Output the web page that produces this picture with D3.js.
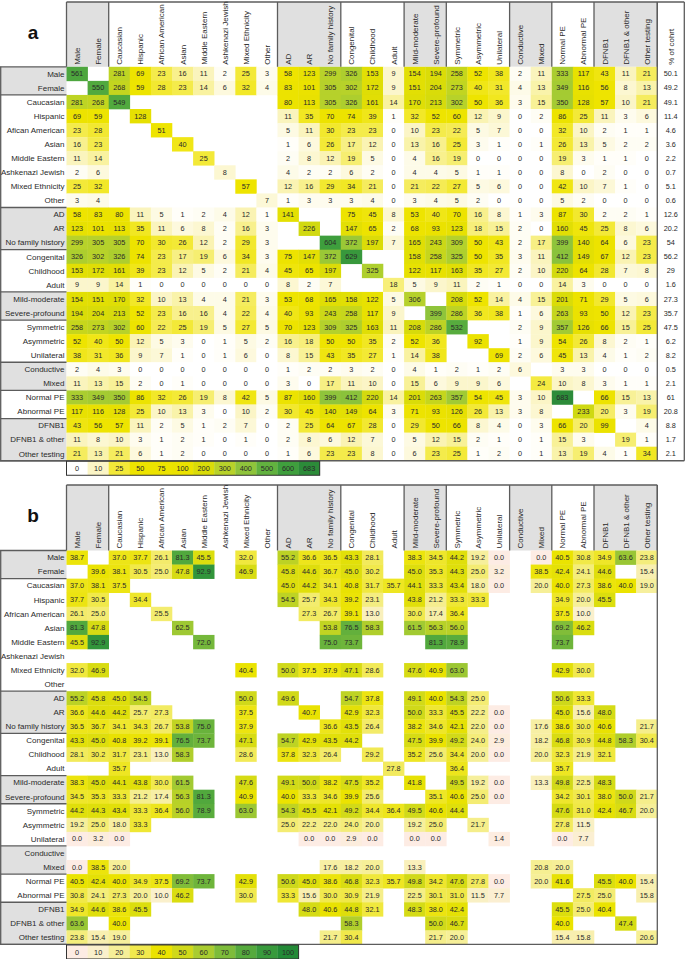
<!DOCTYPE html>
<html><head><meta charset="utf-8">
<script src="https://cdn.jsdelivr.net/npm/d3@7"></script>
<style>body{margin:0;background:#fff} svg{display:block} text{font-family:"Liberation Sans",Arial,sans-serif;}</style>
</head><body><svg id="c" width="685" height="959"></svg>
<script>
const N = null;
const colLabels = ["Male","Female","Caucasian","Hispanic","African American","Asian","Middle Eastern","Ashkenazi Jewish","Mixed Ethnicity","Other","AD","AR","No family history","Congenital","Childhood","Adult","Mild-moderate","Severe-profound","Symmetric","Asymmetric","Unilateral","Conductive","Mixed","Normal PE","Abnormal PE","DFNB1","DFNB1 & other","Other testing"];
const rowLabelsA = ["Male","Female","Caucasian","Hispanic","Afican American","Asian","Middle Eastern","Ashkenazi Jewish","Mixed Ethnicity","Other","AD","AR","No family history","Congenital","Childhood","Adult","Mild-moderate","Severe-profound","Symmetric","Asymmetric","Unilateral","Conductive","Mixed","Normal PE","Abnormal PE","DFNB1","DFNB1 & other","Other testing"];
const rowLabelsB = ["Male","Female","Caucasian","Hispanic","African American","Asian","Middle Eastern","Ashkenazi Jewish","Mixed Ethnicity","Other","AD","AR","No family history","Congenital","Childhood","Adult","Mild-moderate","Severe-profound","Symmetric","Asymmetric","Unilateral","Conductive","Mixed","Normal PE","Abnormal PE","DFNB1","DFNB1 & other","Other testing"];
const groupSizes = [2,8,3,3,2,3,2,2,3];
const extraColLabel = "% of cohrt";

const countsA = [
[561,N,281,69,23,16,11,2,25,3,58,123,299,326,153,9,154,194,258,52,38,2,11,333,117,43,11,21],
[N,550,268,59,28,23,14,6,32,4,83,101,305,302,172,9,151,204,273,40,31,4,13,349,116,56,8,13],
[281,268,549,N,N,N,N,N,N,N,80,113,305,326,161,14,170,213,302,50,36,3,15,350,128,57,10,21],
[69,59,N,128,N,N,N,N,N,N,11,35,70,74,39,1,32,52,60,12,9,0,2,86,25,11,3,6],
[23,28,N,N,51,N,N,N,N,N,5,11,30,23,23,0,10,23,22,5,7,0,0,32,10,2,1,1],
[16,23,N,N,N,40,N,N,N,N,1,6,26,17,12,0,13,16,25,3,1,0,1,26,13,5,2,2],
[11,14,N,N,N,N,25,N,N,N,2,8,12,19,5,0,4,16,19,0,0,0,0,19,3,1,1,0],
[2,6,N,N,N,N,N,8,N,N,4,2,2,6,2,0,4,4,5,1,1,0,0,8,0,2,0,0],
[25,32,N,N,N,N,N,N,57,N,12,16,29,34,21,0,21,22,27,5,6,0,0,42,10,7,1,0],
[3,4,N,N,N,N,N,N,N,7,1,3,3,3,4,0,3,4,5,2,0,0,0,5,2,0,0,0],
[58,83,80,11,5,1,2,4,12,1,141,N,N,75,45,8,53,40,70,16,8,1,3,87,30,2,2,1],
[123,101,113,35,11,6,8,2,16,3,N,226,N,147,65,2,68,93,123,18,15,2,0,160,45,25,8,6],
[299,305,305,70,30,26,12,2,29,3,N,N,604,372,197,7,165,243,309,50,43,2,17,399,140,64,6,23],
[326,302,326,74,23,17,19,6,34,3,75,147,372,629,N,N,158,258,325,50,35,3,11,412,149,67,12,23],
[153,172,161,39,23,12,5,2,21,4,45,65,197,N,325,N,122,117,163,35,27,2,10,220,64,28,7,8],
[9,9,14,1,0,0,0,0,0,0,8,2,7,N,N,18,5,9,11,2,1,0,0,14,3,0,0,0],
[154,151,170,32,10,13,4,4,21,3,53,68,165,158,122,5,306,N,208,52,14,4,15,201,71,29,5,6],
[194,204,213,52,23,16,16,4,22,4,40,93,243,258,117,9,N,399,286,36,38,1,6,263,93,50,12,23],
[258,273,302,60,22,25,19,5,27,5,70,123,309,325,163,11,208,286,532,N,N,2,9,357,126,66,15,25],
[52,40,50,12,5,3,0,1,5,2,16,18,50,50,35,2,52,36,N,92,N,1,9,54,26,8,2,1],
[38,31,36,9,7,1,0,1,6,0,8,15,43,35,27,1,14,38,N,N,69,2,6,45,13,4,1,2],
[2,4,3,0,0,0,0,0,0,0,1,2,2,3,2,0,4,1,2,1,2,6,N,3,3,0,0,0],
[11,13,15,2,0,1,0,0,0,0,3,0,17,11,10,0,15,6,9,9,6,N,24,10,8,3,1,1],
[333,349,350,86,32,26,19,8,42,5,87,160,399,412,220,14,201,263,357,54,45,3,10,683,N,66,15,13],
[117,116,128,25,10,13,3,0,10,2,30,45,140,149,64,3,71,93,126,26,13,3,8,N,233,20,3,19],
[43,56,57,11,2,5,1,2,7,0,2,25,64,67,28,0,29,50,66,8,4,0,3,66,20,99,N,4],
[11,8,10,3,1,2,1,0,1,0,2,8,6,12,7,0,5,12,15,2,1,0,1,15,3,N,19,1],
[21,13,21,6,1,2,0,0,0,0,1,6,23,23,8,0,6,23,25,1,2,0,1,13,19,4,1,34]
];
const cohortPct = [50.1,49.2,49.1,11.4,4.6,3.6,2.2,0.7,5.1,0.6,12.6,20.2,54,56.2,29,1.6,27.3,35.7,47.5,6.2,8.2,0.5,2.1,61,20.8,8.8,1.7,2.1];

const pctB = [
[38.7,N,37.0,37.7,26.1,81.3,45.5,N,32.0,N,55.2,36.6,36.5,43.3,28.1,N,38.3,34.5,44.2,19.2,0.0,N,0.0,40.5,30.8,34.9,63.6,23.8],
[N,39.6,38.1,30.5,25.0,47.8,92.9,N,46.9,N,45.8,44.6,36.7,45.0,30.2,N,45.0,35.3,44.3,25.0,3.2,N,38.5,42.4,24.1,44.6,N,15.4],
[37.0,38.1,37.5,N,N,N,N,N,N,N,45.0,44.2,34.1,40.8,31.7,35.7,44.1,33.3,43.4,18.0,0.0,N,20.0,40.0,27.3,38.6,40.0,19.0],
[37.7,30.5,N,34.4,N,N,N,N,N,N,54.5,25.7,34.3,39.2,23.1,N,43.8,21.2,33.3,33.3,N,N,N,34.9,20.0,45.5,N,N],
[26.1,25.0,N,N,25.5,N,N,N,N,N,N,27.3,26.7,39.1,13.0,N,30.0,17.4,36.4,N,N,N,N,37.5,10.0,N,N,N],
[81.3,47.8,N,N,N,62.5,N,N,N,N,N,N,53.8,76.5,58.3,N,61.5,56.3,56.0,N,N,N,N,69.2,46.2,N,N,N],
[45.5,92.9,N,N,N,N,72.0,N,N,N,N,N,75.0,73.7,N,N,N,81.3,78.9,N,N,N,N,73.7,N,N,N,N],
[N,N,N,N,N,N,N,N,N,N,N,N,N,N,N,N,N,N,N,N,N,N,N,N,N,N,N,N],
[32.0,46.9,N,N,N,N,N,N,40.4,N,50.0,37.5,37.9,47.1,28.6,N,47.6,40.9,63.0,N,N,N,N,42.9,30.0,N,N,N],
[N,N,N,N,N,N,N,N,N,N,N,N,N,N,N,N,N,N,N,N,N,N,N,N,N,N,N,N],
[55.2,45.8,45.0,54.5,N,N,N,N,50.0,N,49.6,N,N,54.7,37.8,N,49.1,40.0,54.3,25.0,N,N,N,50.6,33.3,N,N,N],
[36.6,44.6,44.2,25.7,27.3,N,N,N,37.5,N,N,40.7,N,42.9,32.3,N,50.0,33.3,45.5,22.2,0.0,N,N,45.0,15.6,48.0,N,N],
[36.5,36.7,34.1,34.3,26.7,53.8,75.0,N,37.9,N,N,N,36.6,43.5,26.4,N,38.2,34.6,42.1,22.0,0.0,N,17.6,38.6,30.0,40.6,N,21.7],
[43.3,45.0,40.8,39.2,39.1,76.5,73.7,N,47.1,N,54.7,42.9,43.5,44.2,N,N,47.5,39.9,49.2,24.0,2.9,N,18.2,46.8,30.9,44.8,58.3,30.4],
[28.1,30.2,31.7,23.1,13.0,58.3,N,N,28.6,N,37.8,32.3,26.4,N,29.2,N,35.2,25.6,34.4,20.0,0.0,N,20.0,32.3,21.9,32.1,N,N],
[N,N,35.7,N,N,N,N,N,N,N,N,N,N,N,N,27.8,N,N,36.4,N,N,N,N,35.7,N,N,N,N],
[38.3,45.0,44.1,43.8,30.0,61.5,N,N,47.6,N,49.1,50.0,38.2,47.5,35.2,N,41.8,N,49.5,19.2,0.0,N,13.3,49.8,22.5,48.3,N,N],
[34.5,35.3,33.3,21.2,17.4,56.3,81.3,N,40.9,N,40.0,33.3,34.6,39.9,25.6,N,N,35.1,40.6,25.0,0.0,N,N,34.2,30.1,38.0,50.0,21.7],
[44.2,44.3,43.4,33.3,36.4,56.0,78.9,N,63.0,N,54.3,45.5,42.1,49.2,34.4,36.4,49.5,40.6,44.4,N,N,N,N,47.6,31.0,42.4,46.7,20.0],
[19.2,25.0,18.0,33.3,N,N,N,N,N,N,25.0,22.2,22.0,24.0,20.0,N,19.2,25.0,N,21.7,N,N,N,27.8,11.5,N,N,N],
[0.0,3.2,0.0,N,N,N,N,N,N,N,N,0.0,0.0,2.9,0.0,N,0.0,0.0,N,N,1.4,N,N,0.0,7.7,N,N,N],
[N,N,N,N,N,N,N,N,N,N,N,N,N,N,N,N,N,N,N,N,N,N,N,N,N,N,N,N],
[0.0,38.5,20.0,N,N,N,N,N,N,N,N,N,17.6,18.2,20.0,N,13.3,N,N,N,N,N,20.8,20.0,N,N,N,N],
[40.5,42.4,40.0,34.9,37.5,69.2,73.7,N,42.9,N,50.6,45.0,38.6,46.8,32.3,35.7,49.8,34.2,47.6,27.8,0.0,N,20.0,41.6,N,45.5,40.0,15.4],
[30.8,24.1,27.3,20.0,10.0,46.2,N,N,30.0,N,33.3,15.6,30.0,30.9,21.9,N,22.5,30.1,31.0,11.5,7.7,N,N,N,27.5,25.0,N,15.8],
[34.9,44.6,38.6,45.5,N,N,N,N,N,N,N,48.0,40.6,44.8,32.1,N,48.3,38.0,42.4,N,N,N,N,45.5,25.0,40.4,N,N],
[63.6,N,40.0,N,N,N,N,N,N,N,N,N,N,58.3,N,N,N,50.0,46.7,N,N,N,N,40.0,N,N,47.4,N],
[23.8,15.4,19.0,N,N,N,N,N,N,N,N,N,21.7,30.4,N,N,N,21.7,20.0,N,N,N,N,15.4,15.8,N,N,20.6]
];

const legendA = [0,10,25,50,75,100,200,300,400,500,600,683];
const legendB = [0,10,20,30,40,50,60,70,80,90,100];

const colorA = d3.scaleLinear()
  .domain([0,10,25,50,100,200,300,400,500,600,683])
  .range(["#ffffff","#fbf5c6","#f3e938","#eee400","#ebe200","#dadc08","#b8d22a","#8fc43b","#62b23f","#3f9f3d","#2c8b39"])
  .interpolate(d3.interpolateRgb).clamp(true);
const colorB = d3.scaleLinear()
  .domain([0,10,20,30,40,50,60,70,80,90,100])
  .range(["#fdece4","#faf0cc","#f6ef98","#f1e94e","#ebe300","#d0d91a","#a9cc30","#7dbc3a","#55aa3d","#389a3c","#238a37"])
  .interpolate(d3.interpolateRgb).clamp(true);

const svg = d3.select("#c");
const cellW = 21.1, rowH = 14.07, x0 = 66.5;
const nC = colLabels.length;
const gridRight = x0 + nC*cellW;
const x = d3.scaleBand().domain(d3.range(nC)).range([x0, gridRight]);
const lineCol = "#5c5c5c", gray = "#e0e0e0", txtCol = "#2a2a2a";

const bounds = [0]; groupSizes.forEach(s => bounds.push(bounds[bounds.length-1]+s));

function drawPanel(o){
  const g = svg.append("g");
  const nR = o.rowLabels.length;
  const y = d3.scaleBand().domain(d3.range(nR)).range([o.gridTop, o.gridTop + nR*rowH]);
  const gridBottom = o.gridTop + nR*rowH;
  const rightEdge = o.extra ? gridRight + 27 : gridRight;

  groupSizes.forEach((s,i) => {
    g.append("rect").attr("x", x(bounds[i])).attr("y", o.headerTop)
      .attr("width", s*cellW).attr("height", o.gridTop - o.headerTop)
      .attr("fill", i%2===0 ? gray : "#fff");
    g.append("rect").attr("x", 0.5).attr("y", y(bounds[i]))
      .attr("width", x0-0.5).attr("height", s*rowH)
      .attr("fill", i%2===0 ? gray : "#fff");
  });

  o.matrix.forEach((row, r) => row.forEach((v, c) => {
    if (v === null) return;
    g.append("rect").attr("x", x(c)).attr("y", y(r))
      .attr("width", cellW+0.3).attr("height", rowH+0.3)
      .attr("fill", o.color(v));
  }));

  const L = (x1,y1,x2,y2) => g.append("line").attr("x1",x1).attr("y1",y1).attr("x2",x2).attr("y2",y2)
      .attr("stroke", lineCol).attr("stroke-width", 1.3);
  L(x0, o.headerTop, rightEdge, o.headerTop);
  bounds.forEach(b => { const xx = b < nC ? x(b) : gridRight; L(xx, o.headerTop, xx, o.gridTop); });
  L(gridRight, o.headerTop, gridRight, gridBottom);
  if (o.extra) L(rightEdge, o.headerTop, rightEdge, gridBottom);
  L(0.7, o.gridTop, 0.7, gridBottom);
  bounds.forEach(b => { const yy = b < nR ? y(b) : gridBottom; L(0, yy, x0, yy); });
  L(0, gridBottom, rightEdge, gridBottom);

  colLabels.forEach((t, c) => {
    g.append("text").attr("transform", `translate(${x(c)+cellW/2+3},${o.gridTop-2}) rotate(-90)`)
      .attr("font-size", 8).attr("fill", txtCol).text(t);
  });
  if (o.extra) {
    g.append("text").attr("transform", `translate(${gridRight+13.5+3},${o.gridTop-2}) rotate(-90)`)
      .attr("font-size", 8).attr("fill", txtCol).text(extraColLabel);
  }
  o.rowLabels.forEach((t, r) => {
    g.append("text").attr("x", x0-2).attr("y", y(r)+rowH/2).attr("dy","0.35em")
      .attr("text-anchor","end").attr("font-size", 8).attr("fill", txtCol).text(t);
  });
  o.matrix.forEach((row, r) => row.forEach((v, c) => {
    if (v === null) return;
    g.append("text").attr("x", x(c)+cellW/2).attr("y", y(r)+rowH/2).attr("dy","0.35em")
      .attr("text-anchor","middle").attr("font-size", 7.3).attr("fill", txtCol).text(o.fmt(v));
  }));
  if (o.extra) {
    o.extra.forEach((v, r) => {
      g.append("text").attr("x", gridRight+13.5).attr("y", y(r)+rowH/2).attr("dy","0.35em")
        .attr("text-anchor","middle").attr("font-size", 7.3).attr("fill", txtCol).text(String(v));
    });
  }
  g.append("text").attr("x", 33).attr("y", o.headerTop+37).attr("text-anchor","middle")
    .attr("font-size", 19).attr("font-weight","bold").attr("fill","#111").text(o.letter);

  const lg = g.append("g");
  const ly = gridBottom + 0.5, lh = 14;
  o.legend.forEach((v, i) => {
    lg.append("rect").attr("x", x(i)).attr("y", ly).attr("width", cellW+0.3).attr("height", lh).attr("fill", o.color(v));
    lg.append("text").attr("x", x(i)+cellW/2).attr("y", ly+lh/2).attr("dy","0.35em")
      .attr("text-anchor","middle").attr("font-size", 7.3).attr("fill", txtCol).text(v);
  });
  lg.append("rect").attr("x", x0).attr("y", ly).attr("width", o.legend.length*cellW).attr("height", lh)
    .attr("fill","none").attr("stroke","#333").attr("stroke-width",1);
}

drawPanel({headerTop: 2, gridTop: 66.8, rowLabels: rowLabelsA, matrix: countsA, color: colorA,
  fmt: v => String(v), extra: cohortPct, legend: legendA, letter: "a"});
drawPanel({headerTop: 485, gridTop: 550.5, rowLabels: rowLabelsB, matrix: pctB, color: colorB,
  fmt: v => v.toFixed(1), extra: null, legend: legendB, letter: "b"});
</script></body></html>
